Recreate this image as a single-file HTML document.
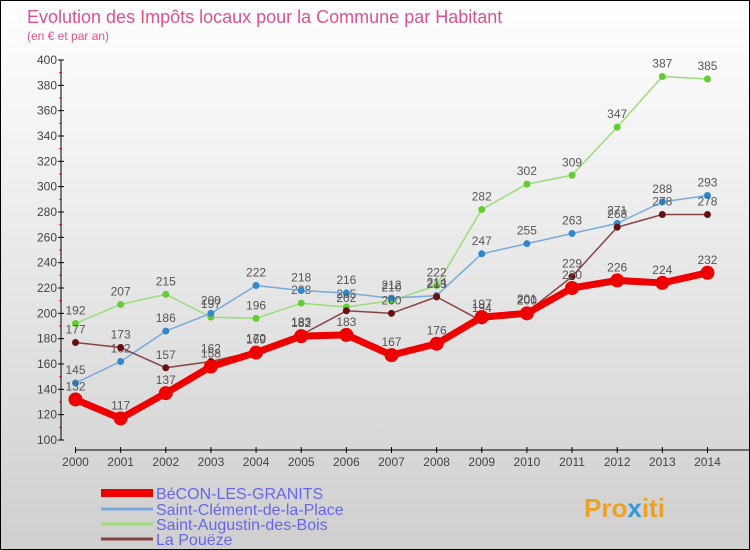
<!DOCTYPE html>
<html><head><meta charset="utf-8"><style>
body{margin:0}
#c{position:relative;width:748px;height:548px;border:1px solid #000;background:linear-gradient(#fff,#cfcfcf);font-family:"Liberation Sans",sans-serif;overflow:hidden}
</style></head><body>
<div id="c">
<svg id="s" width="748" height="548" style="position:absolute;left:0;top:0">
<text x="26" y="22" font-size="18" fill="#e0508a">Evolution des Impôts locaux pour la Commune par Habitant</text>
<text x="26" y="39" font-size="12" fill="#e0508a">(en € et par an)</text>
<g id="axes"></g><g id="series"></g><g id="legend"></g>
<text x="583" y="516" font-size="26" font-weight="bold" fill="#f0a020">Pro<tspan fill="#3399dd">x</tspan>iti</text>
</svg>
</div>
<script>
const years=[2000,2001,2002,2003,2004,2005,2006,2007,2008,2009,2010,2011,2012,2013,2014];
const becon=[132,117,137,158,169,182,183,167,176,197,200,220,226,224,232];
const clement=[145,162,186,200,222,218,216,212,214,247,255,263,271,288,293];
const augustin=[192,207,215,197,196,208,205,210,222,282,302,309,347,387,385];
const pouze=[177,173,157,162,170,183,202,200,213,194,201,229,268,278,278];
const yTicks=[100,120,140,160,180,200,220,240,260,280,300,320,340,360,380,400];
const NS="http://www.w3.org/2000/svg";
const X=i=>74.5+i*45.14, Y=v=>439-(v-100)*380/300;
function mk(p,t,a){const e=document.createElementNS(NS,t);for(const k in a)e.setAttribute(k,a[k]);p.appendChild(e);return e;}
const ax=document.getElementById('axes');
let l=mk(ax,'line',{x1:60,y1:Y(400),x2:60,y2:Y(100),stroke:'#000'});

l=mk(ax,'line',{x1:X(0),y1:449,x2:748,y2:449,stroke:'#000'});

yTicks.forEach(v=>{mk(ax,'line',{x1:57,y1:Y(v),x2:63,y2:Y(v),stroke:'#000'});
 if(v<400)mk(ax,'line',{x1:58,y1:Y(v+10),x2:61,y2:Y(v+10),stroke:'#f00'});
 const t=mk(ax,'text',{x:56,y:Y(v)+4,'font-size':12,fill:'#444','text-anchor':'end'});t.textContent=v;
 });
years.forEach((y,i)=>{mk(ax,'line',{x1:X(i),y1:446,x2:X(i),y2:452,stroke:'#000'});
 const t=mk(ax,'text',{x:X(i),y:465,'font-size':12,fill:'#444','text-anchor':'middle'});t.textContent=y;
 });
const sg=document.getElementById('series');
function series(d,col,w,r,dot,name){
 const g=mk(sg,'g',{});
 mk(g,'polyline',{points:d.map((v,i)=>X(i)+','+Y(v)).join(' '),fill:'none',stroke:col,'stroke-width':w,'stroke-linejoin':'round'});
 d.forEach((v,i)=>{const c=mk(g,'circle',{cx:X(i),cy:Y(v),r:r,fill:dot});
  
  const t=mk(g,'text',{x:X(i),y:Y(v)-9,'font-size':12,fill:'#555','text-anchor':'middle'});t.textContent=v;});
}
series(augustin,'#99dd77',1.5,3.5,'#66cc33','series-saint-augustin');
series(clement,'#77aadd',1.5,3.5,'#3388cc','series-saint-clement');
series(pouze,'#884444',1.5,3.5,'#661111','series-la-poueze');
series(becon,'#ee0000',7,7,'#ee0000','series-becon');
const lg=document.getElementById('legend');
[['BéCON-LES-GRANITS','#ee0000',8,492],['Saint-Clément-de-la-Place','#77aadd',3,508],['Saint-Augustin-des-Bois','#99dd77',3,523],['La Pouëze','#884444',3,538]].forEach(([n,c,w,y])=>{
 const g=mk(lg,'g',{});
 mk(g,'line',{x1:100,y1:y,x2:152,y2:y,stroke:c,'stroke-width':w});
 const t=mk(g,'text',{x:155,y:y+6,'font-size':16,fill:'#6666ee'});t.textContent=n;});
</script>
</body></html>
